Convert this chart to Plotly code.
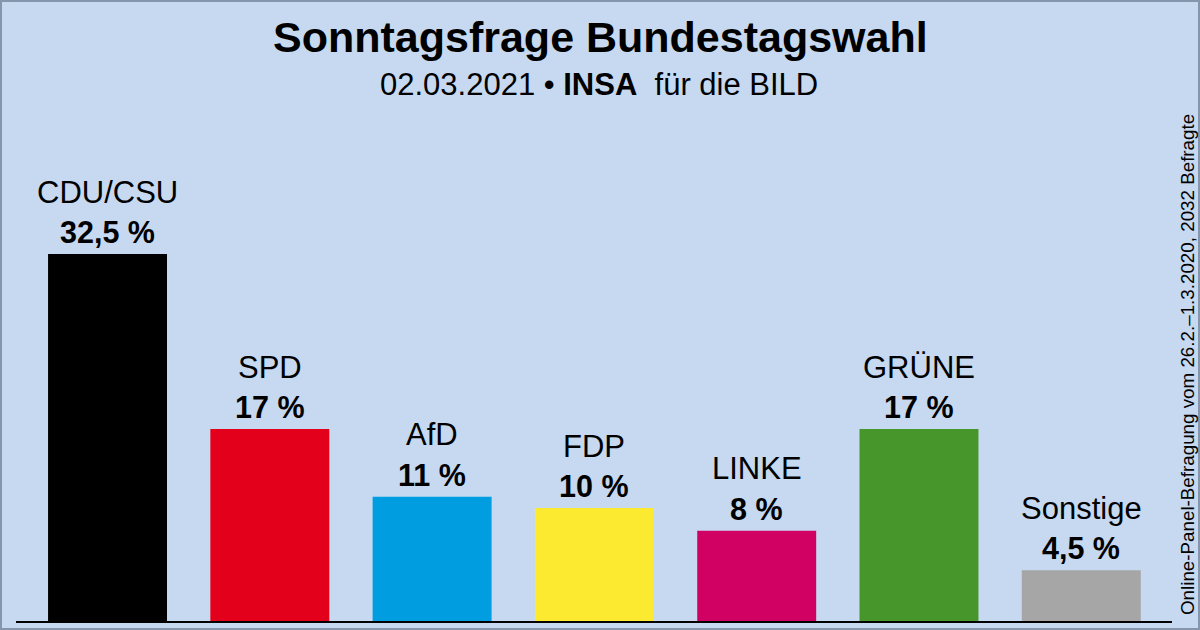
import plotly.graph_objects as go

parties = ["CDU/CSU", "SPD", "AfD", "FDP", "LINKE", "GRÜNE", "Sonstige"]
values = [32.5, 17, 11, 10, 8, 17, 4.5]
value_labels = ["32,5 %", "17 %", "11 %", "10 %", "8 %", "17 %", "4,5 %"]
colors = ["#000000", "#e3001b", "#009ee0", "#fbea30", "#d10063", "#46962b", "#a6a6a6"]

BG = "#c6d9f0"
FONT = "Liberation Sans, Arial, sans-serif"

W, H = 1200, 630
L, R, T, B = 16, 28, 130, 9
PW, PH = W - L - R, H - T - B


def px(x):
    return (x - L) / PW


def py(y):
    return (H - B - y) / PH


fig = go.Figure()
fig.add_trace(go.Bar(
    x=parties, y=values,
    marker=dict(color=colors, line=dict(width=0)),
    width=0.733,
    hoverinfo="skip",
))

annotations = []
for p, v, lab in zip(parties, values, value_labels):
    annotations.append(dict(x=p, y=v, xref="x", yref="y", text=lab, showarrow=False,
                            yanchor="middle", yshift=22,
                            font=dict(family=FONT, size=30.5, color="#000000", weight="bold")))
    annotations.append(dict(x=p, y=v, xref="x", yref="y", text=p, showarrow=False,
                            yanchor="middle", yshift=62,
                            font=dict(family=FONT, size=31, color="#000000")))

annotations.append(dict(x=px(600), y=py(37), xref="paper", yref="paper",
                        text="<b>Sonntagsfrage Bundestagswahl</b>", showarrow=False,
                        xanchor="center", yanchor="middle",
                        font=dict(family=FONT, size=43, color="#000000")))
annotations.append(dict(x=px(599), y=py(84), xref="paper", yref="paper",
                        text="02.03.2021 • <b>INSA</b>  für die BILD", showarrow=False,
                        xanchor="center", yanchor="middle",
                        font=dict(family=FONT, size=31, color="#000000")))
annotations.append(dict(x=px(1187), y=py(365), xref="paper", yref="paper",
                        text="Online-Panel-Befragung vom 26.2.–1.3.2020, 2032 Befragte",
                        showarrow=False, textangle=-90,
                        xanchor="center", yanchor="middle",
                        font=dict(family=FONT, size=18.8, color="#000000")))

fig.update_layout(
    width=W, height=H,
    paper_bgcolor=BG, plot_bgcolor=BG,
    margin=dict(l=L, r=R, t=T, b=B, pad=0),
    showlegend=False,
    annotations=annotations,
    xaxis=dict(range=[-0.564, 6.559], showticklabels=False, ticks="", showgrid=False,
               zeroline=False, showline=True, linecolor="#000000", linewidth=1.5,
               fixedrange=True),
    yaxis=dict(range=[0, PH / 11.29], visible=False, showgrid=False, zeroline=False,
               fixedrange=True),
)
fig.add_shape(type="rect", xref="paper", yref="paper",
              x0=px(0), x1=px(W), y0=py(H), y1=py(0),
              line=dict(color="#8595ab", width=4), fillcolor="rgba(0,0,0,0)", layer="above")

fig.write_html("out.html", config={"displayModeBar": False},
               post_script="document.body.style.margin='0';document.body.style.overflow='hidden';")
